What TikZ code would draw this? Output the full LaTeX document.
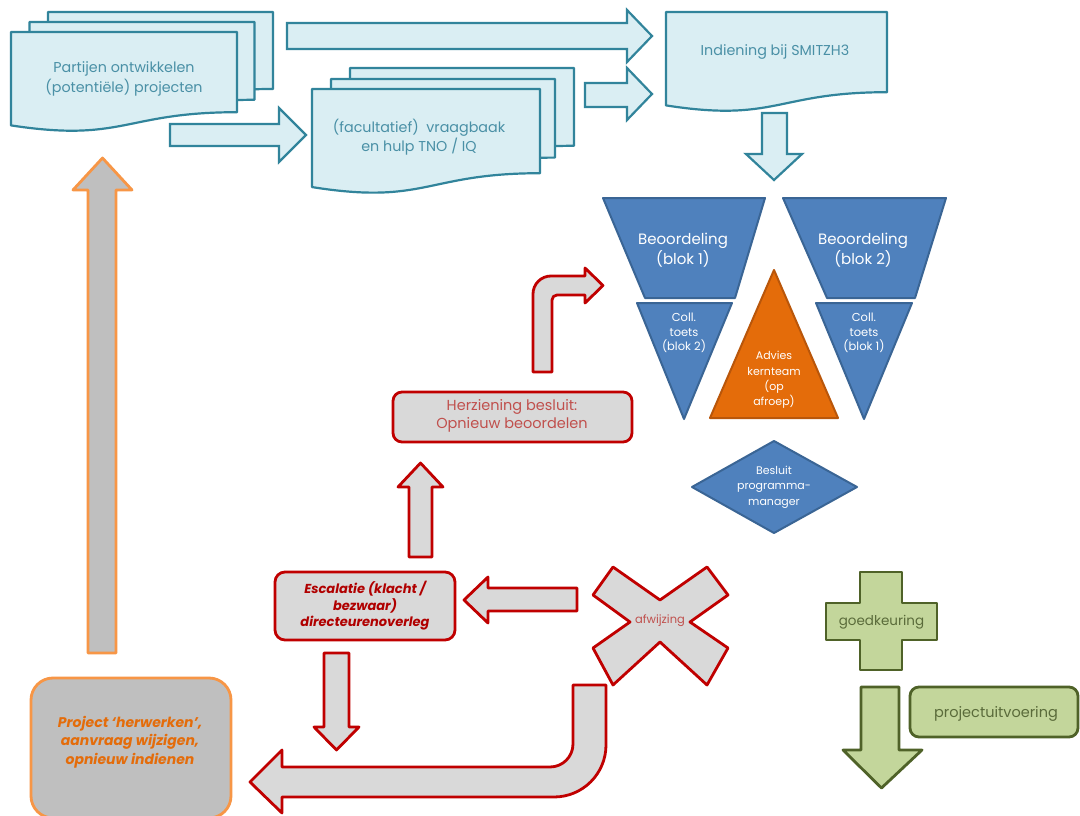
\documentclass[tikz,border=0pt]{standalone}
\usepackage{fontspec}
\setmainfont{Poppins}
\definecolor{docfill}{HTML}{DAEEF3}
\definecolor{docline}{HTML}{31849B}
\definecolor{doctext}{HTML}{4A90A6}
\definecolor{bluefill}{HTML}{4F81BD}
\definecolor{blueline}{HTML}{3A6595}
\definecolor{orfill}{HTML}{E46C0A}
\definecolor{orborder}{HTML}{B9560A}
\definecolor{grayfill}{HTML}{D9D9D9}
\definecolor{redline}{HTML}{C00000}
\definecolor{redtext}{HTML}{C0504D}
\definecolor{redtextdark}{HTML}{B00000}
\definecolor{graydark}{HTML}{BFBFBF}
\definecolor{orline}{HTML}{F79646}
\definecolor{ortext}{HTML}{E46C0A}
\definecolor{grfill}{HTML}{C3D69B}
\definecolor{grline}{HTML}{4F6228}
\definecolor{grtext}{HTML}{5A6B3A}
\newcommand\docsheet[5]{%
  \pgfmathsetmacro\dxa{#2+#4}\pgfmathsetmacro\dxm{#2+0.5*#4}%
  \pgfmathsetmacro\dyr{#3+0.802*#5}\pgfmathsetmacro\dyc{#3+1.107*#5}%
  \pgfmathsetmacro\dyl{#3+0.934*#5}%
  \path[#1] (#2,#3) -- (\dxa,#3) -- (\dxa,\dyr) .. controls (\dxm,\dyr) and (\dxm,\dyc) .. (#2,\dyl) -- cycle;}
\begin{document}
\begin{tikzpicture}[x=1pt,y=-1pt,
  docstyle/.style={fill=docfill,draw=docline,line width=2.2pt,line join=round},
  barrow/.style={fill=docfill,draw=docline,line width=2.2pt,line join=miter},
  blueshape/.style={fill=bluefill,draw=blueline,line width=2pt,line join=round},
  orangetri/.style={fill=orfill,draw=orborder,line width=2pt,line join=round},
  redshape/.style={fill=grayfill,draw=redline,line width=2.8pt,line join=round},
  orshape/.style={fill=graydark,draw=orline,line width=2.8pt,line join=round},
  grshape/.style={fill=grfill,draw=grline,line width=2.8pt,line join=round},
  doctxt/.style={text=doctext,align=center,font=\fontsize{14.3}{19.5}\selectfont},
  whitetxt/.style={text=white,align=center},
  redtxt/.style={text=redtext,align=center,font=\fontsize{14.5}{18}\selectfont},
  esctxt/.style={text=redtextdark,align=center,font=\fontsize{13}{16.5}\selectfont\bfseries\itshape},
  ortxt/.style={text=ortext,align=center,font=\fontsize{14}{18.5}\selectfont\bfseries\itshape},
  grtxt/.style={text=grtext,align=center}]
\useasboundingbox (0,0) rectangle (1080,816);
\fill[white] (0,0) rectangle (1080,816);

% ---------- document stacks ----------
\docsheet{docstyle}{48}{12}{225}{96}
\docsheet{docstyle}{29.5}{22}{225}{97}
\docsheet{docstyle}{11}{32}{226}{100}
\node[doctxt] (partijen) at (124,79) {Partijen ontwikkelen\\(potentiële) projecten};

\docsheet{docstyle}{350}{68}{224}{97}
\docsheet{docstyle}{331}{79}{224}{98}
\docsheet{docstyle}{312}{89}{228}{105}
\node[doctxt] (vraag) at (419,137) {(facultatief)\ \ vraagbaak\\en hulp TNO / IQ};

\docsheet{docstyle}{666}{12}{221}{100}
\node[doctxt] (indiening) at (775,52) {Indiening bij SMITZH3};

% ---------- top block arrows ----------
\path[barrow] (287,23) -- (627,23) -- (627,10) -- (652,36) -- (627,62) -- (627,49) -- (287,49) -- cycle;
\path[barrow] (585,83) -- (627,83) -- (627,68) -- (652,94) -- (627,120) -- (627,107) -- (585,107) -- cycle;
\path[barrow] (170,124) -- (279,124) -- (279,108) -- (306,135) -- (279,162) -- (279,146) -- (170,146) -- cycle;
\path[barrow] (762,113) -- (787,113) -- (787,154) -- (802,154) -- (774,180) -- (746,154) -- (762,154) -- cycle;

% ---------- assessment block ----------
\path[blueshape] (603,198) -- (765,198) -- (735,298) -- (645,298) -- cycle;
\path[blueshape] (783,198) -- (946,198) -- (915,298) -- (827,298) -- cycle;
\path[blueshape] (637,303) -- (732,303) -- (684,419) -- cycle;
\path[blueshape] (816,303) -- (912,303) -- (864,419) -- cycle;
\path[orangetri] (774,270) -- (838,418) -- (710,418) -- cycle;
\path[blueshape] (774,441) -- (857,487) -- (774,533) -- (692,487) -- cycle;
\node[whitetxt,font=\fontsize{15}{20}\selectfont] (beo1) at (683,250) {Beoordeling\\(blok 1)};
\node[whitetxt,font=\fontsize{15}{20}\selectfont] (beo2) at (863,250) {Beoordeling\\(blok 2)};
\node[whitetxt,font=\fontsize{11.5}{14.5}\selectfont] (coll2) at (684,333) {Coll.\\toets\\(blok 2)};
\node[whitetxt,font=\fontsize{11.5}{14.5}\selectfont] (coll1) at (864,333) {Coll.\\toets\\(blok 1)};
\node[whitetxt,font=\fontsize{11}{15.3}\selectfont] (advies) at (774,380) {Advies\\kernteam\\(op\\afroep)};
\node[whitetxt,font=\fontsize{11}{15.5}\selectfont] (besluit) at (774,487) {Besluit\\programma-\\manager};

% ---------- revision path ----------
\path[redshape] (533,372) -- (533,294) arc[start angle=180,end angle=270,radius=18] -- (585,276) -- (585,268) -- (603,285.5) -- (585,303) -- (585,295) -- (557,295) arc[start angle=-90,end angle=-180,radius=5] -- (552,372) -- cycle;
\draw[redshape,rounded corners=9pt] (393,392) rectangle (632,442);
\node[redtxt] (herz) at (512,416) {Herziening besluit:\\Opnieuw beoordelen};
\path[redshape] (409,557) -- (409,487) -- (398,487) -- (420.5,463) -- (443,487) -- (432,487) -- (432,557) -- cycle;
\draw[redshape,rounded corners=10pt] (275,572) rectangle (455,640);
\node[esctxt] (esc) at (365,606) {Escalatie (klacht /\\bezwaar)\\directeurenoverleg};
\path[redshape] (577,588) -- (488,588) -- (488,577) -- (464,600) -- (488,623) -- (488,611) -- (577,611) -- cycle;
\path[redshape] (324,653) -- (349,653) -- (349,727) -- (359,727) -- (336.5,750) -- (314,727) -- (324,727) -- cycle;

% rejection cross
\path[redshape] (613,567) -- (660,600) -- (707,567) -- (728,595) -- (690,622) -- (728,648) -- (707,685) -- (660,642) -- (613,685) -- (593,648) -- (630,622) -- (593,595) -- cycle;
\node[text=redtext,font=\fontsize{11.5}{13}\selectfont] (afw) at (660,621) {afwijzing};

% U-turn arrow back to rework
\path[redshape] (282,767) -- (550,767) arc[start angle=90,end angle=0,radius=23] -- (573,685) -- (606,685) -- (606,745) arc[start angle=0,end angle=90,radius=52] -- (282,797) -- (282,813) -- (250,782) -- (282,750) -- cycle;

% ---------- rework ----------
\draw[orshape,rounded corners=22pt] (31,678) rectangle (231,818);
\node[ortxt] (project) at (130,742) {Project ‘herwerken’,\\aanvraag wijzigen,\\opnieuw indienen};
\path[orshape] (88,653) -- (88,190) -- (73,190) -- (102.5,158) -- (132,190) -- (116,190) -- (116,653) -- cycle;

% ---------- approval ----------
\path[grshape] (860,572) -- (902,572) -- (902,603) -- (937,603) -- (937,640) -- (902,640) -- (902,670) -- (860,670) -- (860,640) -- (826,640) -- (826,603) -- (860,603) -- cycle;
\node[grtxt,font=\fontsize{13.5}{15}\selectfont] (goed) at (881.5,622) {goedkeuring};
\path[grshape] (861,687) -- (899,687) -- (899,750) -- (922,750) -- (881.5,788) -- (843,750) -- (861,750) -- cycle;
\draw[grshape,rounded corners=9pt] (910,687) rectangle (1078,737);
\node[grtxt,font=\fontsize{14.5}{16}\selectfont] (uitv) at (996,714) {projectuitvoering};
\end{tikzpicture}
\end{document}
